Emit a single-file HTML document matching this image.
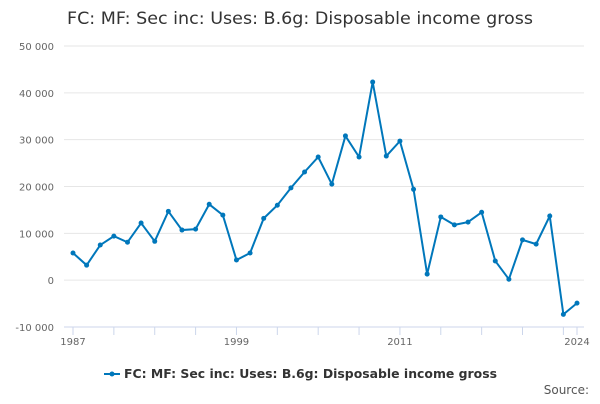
<!DOCTYPE html>
<html><head><meta charset="utf-8"><style>
body{margin:0;background:#fff;font-family:"DejaVu Sans","Liberation Sans",sans-serif}
</style></head><body>
<svg width="600" height="400" xmlns="http://www.w3.org/2000/svg" font-family="DejaVu Sans, Liberation Sans, sans-serif">
<text x="67" y="24" font-size="17" fill="#333" textLength="466" lengthAdjust="spacingAndGlyphs">FC: MF: Sec inc: Uses: B.6g: Disposable income gross</text>
<g id="grid"></g>
<g id="yaxis"></g>
<g id="xaxis"></g>
<g id="series"></g>
<g>
<line x1="104" y1="374" x2="120" y2="374" stroke="#0077bb" stroke-width="2"/>
<circle cx="112" cy="374" r="2.5" fill="#0077bb"/>
<text x="124" y="378" font-size="12.5" fill="#333" font-weight="bold" textLength="373" lengthAdjust="spacingAndGlyphs">FC: MF: Sec inc: Uses: B.6g: Disposable income gross</text>
</g>
<text x="589" y="394" text-anchor="end" font-size="12" fill="#555">Source:</text>
</svg>
<script>
const years=[1987,1988,1989,1990,1991,1992,1993,1994,1995,1996,1997,1998,1999,2000,2001,2002,2003,2004,2005,2006,2007,2008,2009,2010,2011,2012,2013,2014,2015,2016,2017,2018,2019,2020,2021,2022,2023,2024];
const values=[5800,3200,7500,9400,8100,12200,8300,14700,10700,10900,16200,13900,4300,5800,13200,16000,19700,23100,26300,20500,30800,26300,42300,26500,29700,19400,1300,13500,11800,12400,14500,4100,200,8600,7700,13700,-7300,-4900];
const yTicks=[-10000,0,10000,20000,30000,40000,50000];
const yTickLabels=["-10 000","0","10 000","20 000","30 000","40 000","50 000"];
const xLabels=[1987,1999,2011,2024];
const NS="http://www.w3.org/2000/svg";
const x0=73,x1=577,yTop=46,yBot=327;
const xs=v=>x0+(v-1987)/(2024-1987)*(x1-x0);
const ys=v=>yBot-(v+10000)/60000*(yBot-yTop);
function mk(t,a,p){const e=document.createElementNS(NS,t);for(const k in a)e.setAttribute(k,a[k]);p.appendChild(e);return e;}
const grid=document.getElementById('grid'),ya=document.getElementById('yaxis'),xa=document.getElementById('xaxis'),se=document.getElementById('series');
yTicks.forEach((t,i)=>{
 const l=mk('line',{x1:64,x2:584,y1:ys(t),y2:ys(t),stroke:i==0?'#ccd6eb':'#e6e6e6','stroke-width':1},grid);
 
 
 const tx=mk('text',{x:54,y:ys(t)+4,'text-anchor':'end','font-size':10,fill:'#666'},ya);
 tx.textContent=yTickLabels[i];
 
 
});
for(let y=1987;y<=2024;y+=3){
 const tk=mk('line',{x1:xs(y),x2:xs(y),y1:yBot,y2:yBot+8,stroke:'#ccd6eb'},xa);
 
 
}
mk('line',{x1:x1,x2:x1,y1:yBot,y2:yBot+8,stroke:'#ccd6eb'},xa);
xLabels.forEach(y=>{
 const tx=mk('text',{x:xs(y),y:yBot+18,'text-anchor':'middle','font-size':10,fill:'#666'},xa);
 tx.textContent=y;
 
 
});
const pl=mk('polyline',{points:years.map((y,i)=>xs(y)+','+ys(values[i])).join(' '),fill:'none',stroke:'#0077bb','stroke-width':2},se);


years.forEach((y,i)=>{
 const c=mk('circle',{cx:xs(y),cy:ys(values[i]),r:2.5,fill:'#0077bb'},se);
 
 
});
</script>
</body></html>
